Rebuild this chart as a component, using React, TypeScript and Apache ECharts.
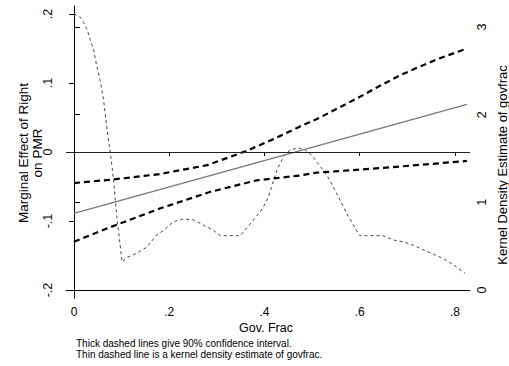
import React, { useEffect, useRef } from "react";
import * as echarts from "echarts";

// ---- data ----
const xTicks = [0, 0.2, 0.4, 0.6, 0.8];
const leftTicks = [-0.2, -0.1, 0, 0.1, 0.2];
const rightTicks = [0, 1, 2, 3];

// marginal effect (thin solid grey)
const marginalEffect: [number, number][] = [
  [0, -0.089],
  [0.825, 0.069],
];

// upper 90% CI (thick dashed)
const ciUpper: [number, number][] = [
  [0, -0.045], [0.08, -0.04], [0.18, -0.032], [0.28, -0.019], [0.36, 0.001],
  [0.42, 0.019], [0.4745, 0.037], [0.5165, 0.05], [0.5585, 0.065], [0.6005, 0.08],
  [0.6425, 0.096], [0.6845, 0.111], [0.7265, 0.124], [0.7685, 0.136], [0.825, 0.15],
];

// lower 90% CI (thick dashed)
const ciLower: [number, number][] = [
  [0, -0.13], [0.076, -0.109], [0.18, -0.082], [0.285, -0.058], [0.384, -0.041],
  [0.475, -0.034], [0.509, -0.03], [0.65, -0.023], [0.825, -0.013],
];

// kernel density of govfrac (thin dashed, right axis)
const density: [number, number][] = [
  [0, 3.15], [0.014, 3.11], [0.02, 3.05], [0.027, 2.98], [0.034, 2.86], [0.041, 2.74],
  [0.048, 2.55], [0.055, 2.39], [0.062, 2.17], [0.069, 1.85], [0.074, 1.65], [0.079, 1.45],
  [0.083, 1.25], [0.09, 0.83], [0.095, 0.6], [0.101, 0.32], [0.111, 0.37], [0.132, 0.42],
  [0.153, 0.49], [0.174, 0.63], [0.188, 0.68], [0.209, 0.78], [0.23, 0.81], [0.251, 0.8],
  [0.272, 0.74], [0.293, 0.68], [0.307, 0.62], [0.349, 0.62], [0.363, 0.71], [0.38, 0.82],
  [0.391, 0.89], [0.398, 0.95], [0.408, 1.06], [0.415, 1.18], [0.426, 1.37], [0.44, 1.52],
  [0.454, 1.6], [0.471, 1.62], [0.485, 1.6], [0.499, 1.54], [0.517, 1.41], [0.531, 1.31],
  [0.548, 1.14], [0.562, 0.99], [0.576, 0.84], [0.59, 0.71], [0.6, 0.62], [0.649, 0.62],
  [0.671, 0.57], [0.691, 0.55], [0.713, 0.51], [0.733, 0.46], [0.754, 0.41], [0.775, 0.36],
  [0.796, 0.29], [0.821, 0.19],
];

const leftTitle = "Marginal Effect of Right\non PMR";
const rightTitle = "Kernel Density Estimate of govfrac";
const xTitle = "Gov. Frac";
const note1 = "Thick dashed lines give 90% confidence interval.";
const note2 = "Thin dashed line is a kernel density estimate of govfrac.";

const FONT = "'Liberation Sans', Arial, Helvetica, sans-serif";

const stataFmt = (v: number) => {
  if (Math.abs(v) < 1e-9) return "0";
  const s = String(Math.round(Math.abs(v) * 100) / 100).replace(/^0/, "");
  return (v < 0 ? "-" : "") + s;
};

export default function App() {
  const ref = useRef<HTMLDivElement>(null);
  useEffect(() => {
    if (!ref.current) return;
    const chart = echarts.init(ref.current, undefined, { renderer: "svg" });
    const thick = { color: "#000", width: 2.2, type: [6, 4] as number[] };
    chart.setOption({
      animation: false,
      backgroundColor: "#fff",
      textStyle: { fontFamily: FONT },
      grid: { left: 66, right: 39, top: 6, bottom: 68 },
      xAxis: [
        {
          type: "value",
          min: -0.0168,
          max: 0.8315,
          position: "bottom",
          offset: 3,
          axisLine: { show: false },
          axisTick: { show: true, length: 4, customValues: xTicks, lineStyle: { color: "#000" } },
          axisLabel: {
            customValues: xTicks,
            formatter: stataFmt,
            fontSize: 12,
            color: "#000",
            fontFamily: FONT,
            margin: 5,
          },
          splitLine: { show: false },
        },
        {
          type: "value",
          min: -0.0168,
          max: 0.8315,
          position: "top",
          axisLine: { show: true, lineStyle: { color: "#000", width: 1 } },
          axisTick: { show: false },
          axisLabel: { show: false },
          splitLine: { show: false },
        },
      ],
      yAxis: [
        {
          type: "value",
          position: "left",
          min: -0.2116,
          max: 0.2116,
          axisLine: { show: true, lineStyle: { color: "#000", width: 1, type: [1.5, 12] } },
          axisTick: { show: true, length: 5, customValues: leftTicks, lineStyle: { color: "#000" } },
          axisLabel: {
            customValues: leftTicks,
            formatter: stataFmt,
            rotate: 90,
            fontSize: 12.5,
            color: "#000",
            fontFamily: FONT,
            margin: 12,
          },
          splitLine: { show: false },
        },
        {
          type: "value",
          position: "right",
          min: -0.091,
          max: 3.24,
          axisLine: { show: true, lineStyle: { color: "#000", width: 1 } },
          axisTick: { show: true, length: 6, customValues: rightTicks, lineStyle: { color: "#000" } },
          axisLabel: {
            customValues: rightTicks,
            formatter: stataFmt,
            rotate: 90,
            fontSize: 12.5,
            color: "#000",
            fontFamily: FONT,
            margin: 5,
          },
          splitLine: { show: false },
        },
      ],
      series: [
        {
          type: "line",
          yAxisIndex: 1,
          data: density,
          showSymbol: false,
          symbol: "none",
          lineStyle: { color: "#444", width: 1, type: [3, 3] },
          z: 1,
        },
        {
          type: "line",
          yAxisIndex: 0,
          data: marginalEffect,
          showSymbol: false,
          symbol: "none",
          lineStyle: { color: "#777", width: 1.2 },
          markLine: {
            silent: true,
            symbol: "none",
            label: { show: false },
            lineStyle: { color: "#222", width: 1, type: "solid" },
            data: [{ yAxis: 0 }],
          },
          z: 2,
        },
        {
          type: "line",
          yAxisIndex: 0,
          data: ciUpper,
          showSymbol: false,
          symbol: "none",
          lineStyle: thick,
          z: 3,
        },
        {
          type: "line",
          yAxisIndex: 0,
          data: ciLower,
          showSymbol: false,
          symbol: "none",
          lineStyle: thick,
          z: 3,
        },
      ],
      graphic: [
        {
          type: "text",
          x: 30,
          y: 153,
          rotation: Math.PI / 2,
          style: {
            text: leftTitle,
            align: "center",
            verticalAlign: "middle",
            fontSize: 13.5,
            lineHeight: 14,
            fontFamily: FONT,
            fill: "#000",
          },
        },
        {
          type: "text",
          x: 502,
          y: 165,
          rotation: Math.PI / 2,
          style: {
            text: rightTitle,
            align: "center",
            verticalAlign: "middle",
            fontSize: 13,
            fontFamily: FONT,
            fill: "#000",
          },
        },
        {
          type: "text",
          x: 266,
          y: 328,
          style: {
            text: xTitle,
            align: "center",
            verticalAlign: "middle",
            fontSize: 12.5,
            fontFamily: FONT,
            fill: "#000",
          },
        },
        {
          type: "text",
          x: 76,
          y: 343,
          style: { text: note1, align: "left", verticalAlign: "middle", fontSize: 10, fontFamily: FONT, fill: "#000" },
        },
        {
          type: "text",
          x: 76,
          y: 354,
          style: { text: note2, align: "left", verticalAlign: "middle", fontSize: 10, fontFamily: FONT, fill: "#000" },
        },
      ],
    });
    return () => chart.dispose();
  }, []);
  return (
    <div
      ref={ref}
      style={{ position: "fixed", left: 0, top: 0, width: 509, height: 366, background: "#fff" }}
    />
  );
}
